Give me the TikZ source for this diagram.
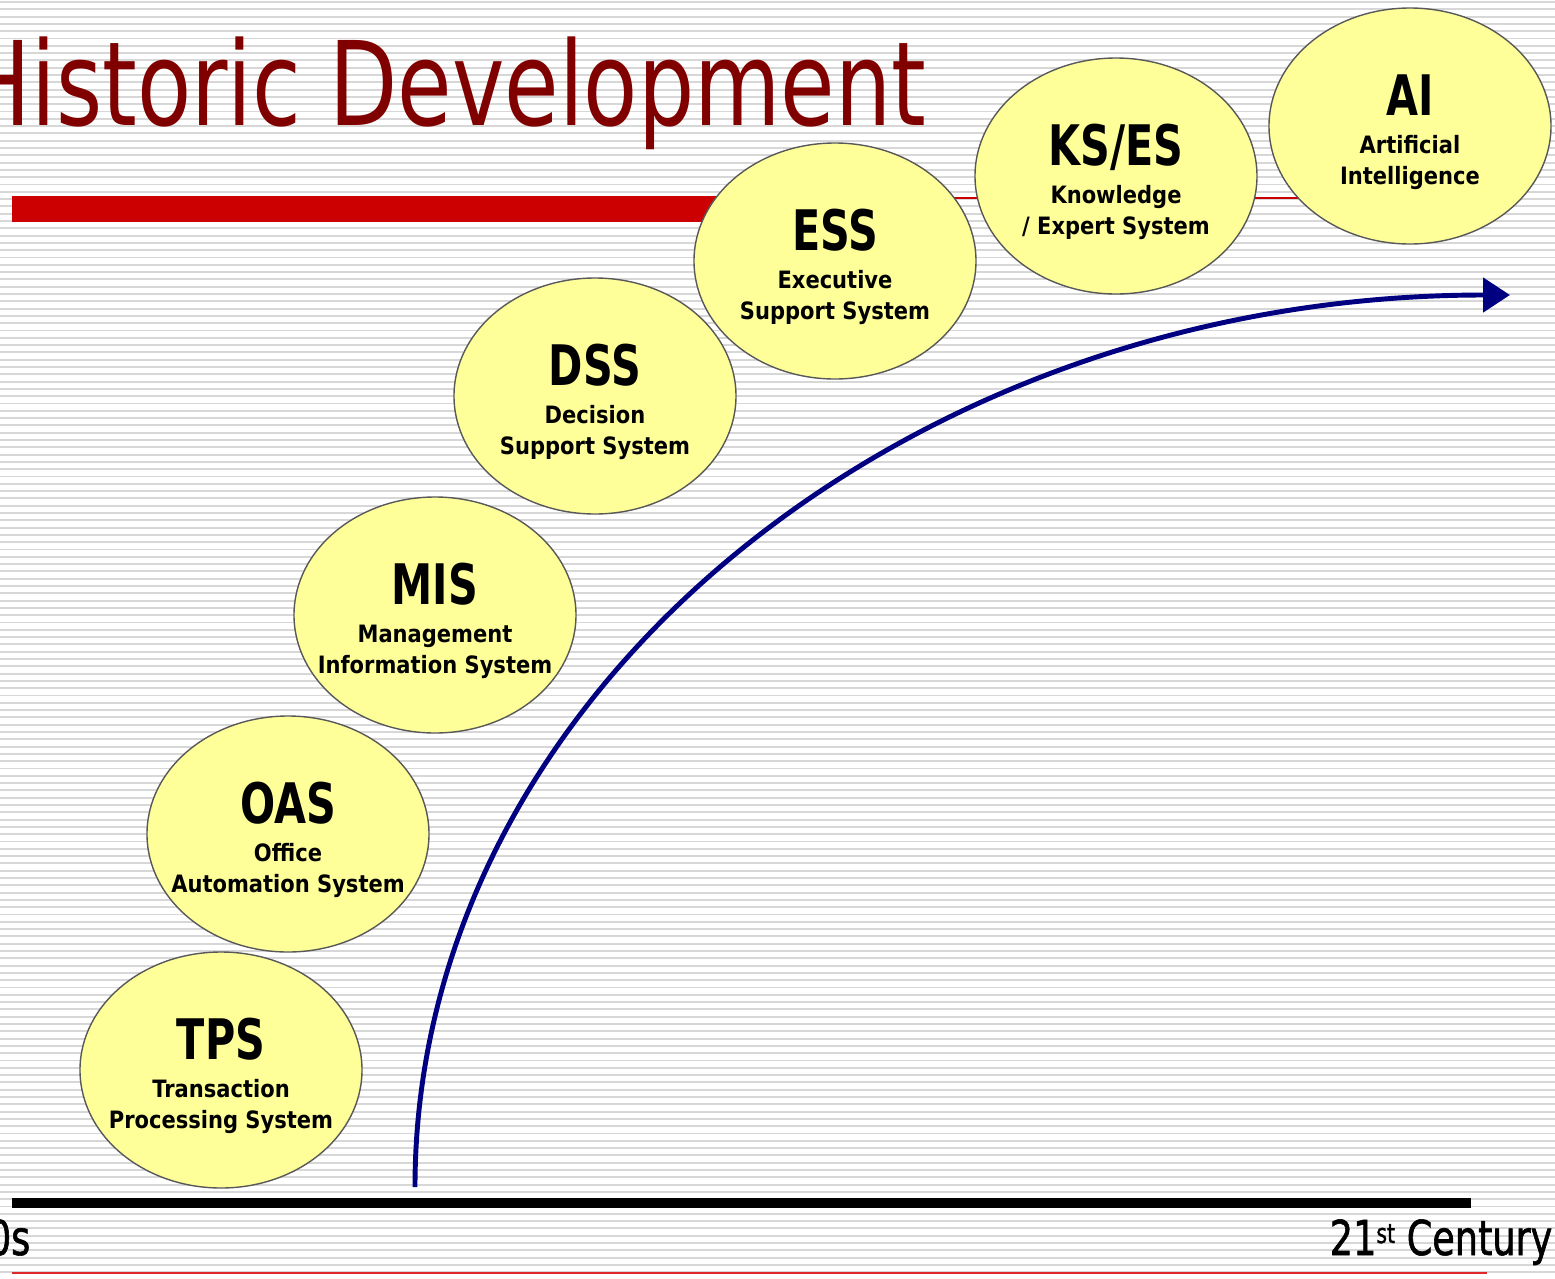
\documentclass[tikz,border=0pt]{standalone}
\usepackage{fontspec}
\setmainfont{DejaVu Sans}
\newfontfamily\titlefont[FakeStretch=0.76]{DejaVu Sans}
\newfontfamily\erafont[FakeStretch=0.76,FakeBold=1.2]{DejaVu Sans}
\newfontfamily\bubblefont[FakeStretch=0.74]{DejaVu Sans}
\newfontfamily\smallfont[FakeStretch=0.88]{DejaVu Sans}
\usetikzlibrary{arrows.meta,shapes.geometric}
\definecolor{titlered}{RGB}{128,0,0}
\definecolor{barred}{RGB}{204,0,0}
\definecolor{linered}{RGB}{225,40,40}
\definecolor{bubbleyellow}{RGB}{255,255,153}
\definecolor{trendblue}{RGB}{0,0,128}
\definecolor{stripe}{RGB}{215,215,215}

\begin{document}
\begin{tikzpicture}[
bubble/.style={ellipse,draw=black!65,line width=0.4pt,fill=bubbleyellow,minimum width=2.82cm,minimum height=2.36cm,inner sep=0pt},
abbr/.style={anchor=base,inner sep=0pt,font=\bubblefont\bfseries\fontsize{15.9}{16}\selectfont},
desc/.style={anchor=base,inner sep=0pt,font=\smallfont\bfseries\fontsize{6.8}{8}\selectfont},
era/.style={anchor=base east,inner sep=0pt,font=\erafont\fontsize{13.7}{15}\selectfont},
trend/.style={line width=1.4pt,draw=trendblue,-{Triangle[length=0.27cm,width=0.34cm]}},
]
\useasboundingbox (0,0) rectangle (15.55,-12.78);

% striped background
\foreach \k in {0,...,175}
{
\draw [stripe, line width=0.55pt] (0,{-0.02-\k*0.073}) -- (15.55,{-0.02-\k*0.073});
}

\node [anchor=base east, inner sep=0pt, text=titlered, font=\titlefont\fontsize{33.2}{36}\selectfont] (title) at (9.27,-1.25) {Historic Development};

\draw [barred, line width=0.26cm] (0.12,-2.09) -- (7.6,-2.09);
\draw [barred, line width=0.6pt] (7.5,-1.98) -- (14.0,-1.98);

\draw [black, line width=0.1cm] (0.12,-12.03) -- (14.71,-12.03);
\draw [linered, line width=0.7pt] (0.12,-12.73) -- (14.87,-12.73);

\node [era] (start) at (0.31,-12.55) {0s};
\node [era] (now) at (15.53,-12.55) {21\raisebox{0.12cm}{\fontsize{7.7}{8}\selectfont st} Century};

\foreach \n/\x/\y/\a/\la/\lb in {TPS/2.21/-10.70/TPS/Transaction/Processing System,
OAS/2.88/-8.34/OAS/Office/Automation System,
MIS/4.35/-6.15/MIS/Management/Information System,
DSS/5.95/-3.96/DSS/Decision/Support System,
ESS/8.35/-2.61/ESS/Executive/Support System,
KSES/11.16/-1.76/{KS/ES}/Knowledge/{/ Expert System},
AI/14.10/-1.26/AI/Artificial/Intelligence}
{
\node [bubble] (\n) at (\x,\y) {};
\node [abbr] (\n-a) at ([yshift=0.11cm]\n.center) {\a};
\node [desc] (\n-b) at ([yshift=-0.27cm]\n.center) {\la};
\node [desc] (\n-c) at ([yshift=-0.58cm]\n.center) {\lb};
}

\coordinate (cstart) at (4.15,-11.87);
\coordinate (cend) at (15.10,-2.95);
\draw [trend] (cstart) .. controls +(0,4.92) and +(-6.05,0) .. (cend);

\end{tikzpicture}
\end{document}
